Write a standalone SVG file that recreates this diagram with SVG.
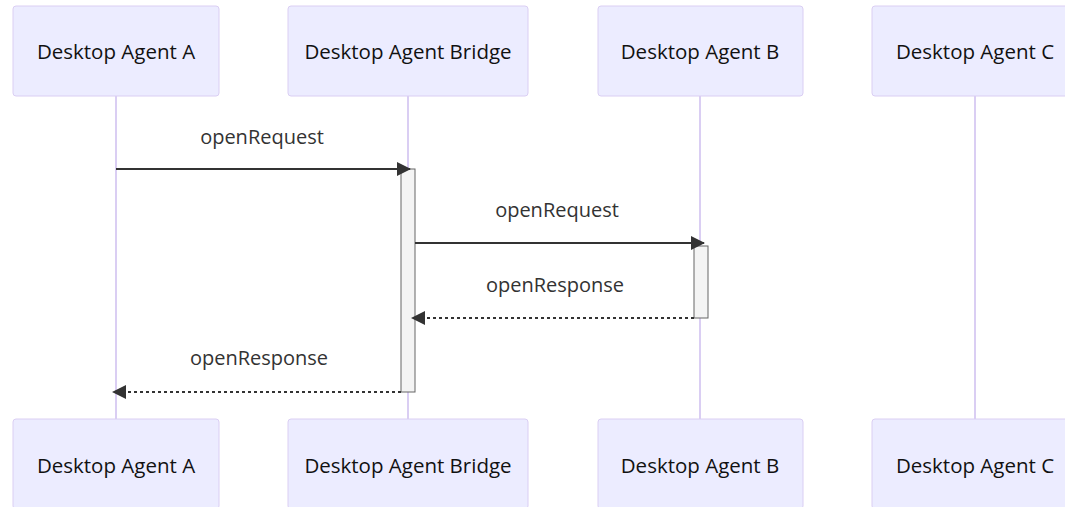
<svg xmlns="http://www.w3.org/2000/svg" width="1065" height="507" viewBox="0 0 1065 507">
<defs>
<style>
.actor{fill:#ECECFF;stroke:#DACEF3;stroke-width:1}
.atext{font-family:"Open Sans","DejaVu Sans",sans-serif;font-size:20.5px;fill:#111;text-anchor:middle;dominant-baseline:central}
.life{stroke:#DACEF3;stroke-width:2}
.act{fill:#F4F4F4;stroke:#666;stroke-width:1}
.msg{stroke:#333;stroke-width:2;fill:none}
.dash{stroke-dasharray:3,3}
.mtext{font-family:"Open Sans","DejaVu Sans",sans-serif;font-size:20px;fill:#333;text-anchor:middle}
</style>
<marker id="arrow" viewBox="0 0 14 14" refX="13" refY="7" markerWidth="14" markerHeight="14" markerUnits="userSpaceOnUse" orient="auto">
<path d="M0,0 L14,7 L0,14 z" fill="#333"/>
</marker>
</defs>
<rect width="1065" height="507" fill="#fff"/>
<g id="lifelines">
<line class="life" x1="116" y1="96" x2="116" y2="419"/>
<line class="life" x1="408" y1="96" x2="408" y2="419"/>
<line class="life" x1="700" y1="96" x2="700" y2="419"/>
<line class="life" x1="975" y1="96" x2="975" y2="419"/>
</g>
<g id="actor-a-top"><rect class="actor" x="13" y="6" width="206" height="90" rx="3"/><text class="atext" x="116" y="51">Desktop Agent A</text></g>
<g id="actor-bridge-top"><rect class="actor" x="288" y="6" width="240" height="90" rx="3"/><text class="atext" x="408" y="51">Desktop Agent Bridge</text></g>
<g id="actor-b-top"><rect class="actor" x="598" y="6" width="205" height="90" rx="3"/><text class="atext" x="700" y="51">Desktop Agent B</text></g>
<g id="actor-c-top"><rect class="actor" x="872" y="6" width="206" height="90" rx="3"/><text class="atext" x="975" y="51">Desktop Agent C</text></g>
<g id="actor-a-bottom"><rect class="actor" x="13" y="419" width="206" height="90" rx="3"/><text class="atext" x="116" y="465">Desktop Agent A</text></g>
<g id="actor-bridge-bottom"><rect class="actor" x="288" y="419" width="240" height="90" rx="3"/><text class="atext" x="408" y="465">Desktop Agent Bridge</text></g>
<g id="actor-b-bottom"><rect class="actor" x="598" y="419" width="205" height="90" rx="3"/><text class="atext" x="700" y="465">Desktop Agent B</text></g>
<g id="actor-c-bottom"><rect class="actor" x="872" y="419" width="206" height="90" rx="3"/><text class="atext" x="975" y="465">Desktop Agent C</text></g>
<g id="activations">
<rect class="act" x="401" y="169" width="14" height="223"/>
<rect class="act" x="694" y="246" width="14" height="72"/>
</g>
<g id="connectors">
<line class="msg" x1="116" y1="169" x2="410" y2="169" marker-end="url(#arrow)"/>
<text class="mtext" x="262" y="144">openRequest</text>
<line class="msg" x1="415" y1="243" x2="704" y2="243" marker-end="url(#arrow)"/>
<text class="mtext" x="557" y="217">openRequest</text>
<line class="msg dash" x1="694" y1="318" x2="412" y2="318" marker-end="url(#arrow)"/>
<text class="mtext" x="555" y="292">openResponse</text>
<line class="msg dash" x1="401" y1="392" x2="113" y2="392" marker-end="url(#arrow)"/>
<text class="mtext" x="259" y="365">openResponse</text>
</g>
</svg>
